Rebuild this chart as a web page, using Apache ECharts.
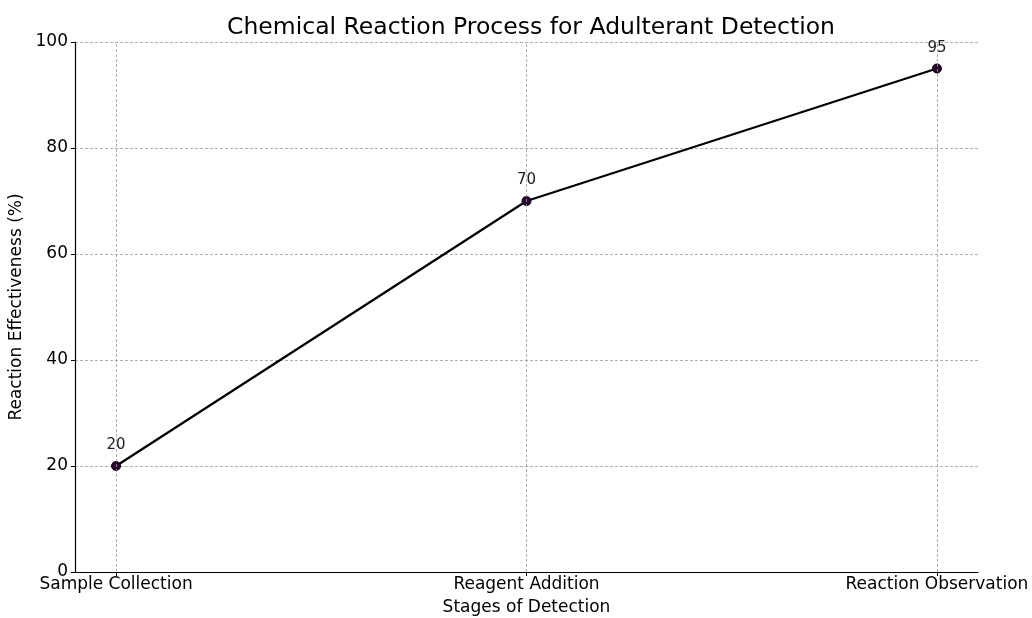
<!DOCTYPE html>
<html>
<head>
<meta charset="utf-8">
<script src="https://cdn.jsdelivr.net/npm/echarts@6/dist/echarts.min.js"></script>
<style>
  html, body { margin: 0; padding: 0; background: #fff; }
  #chart { width: 1032px; height: 618px; }
</style>
</head>
<body>
<div id="chart"></div>
<script>
// data
var stages = ['Sample Collection', 'Reagent Addition', 'Reaction Observation'];
var effectiveness = [20, 70, 95];

var font = 'DejaVu Sans';
var points = stages.map(function (s, i) { return [i, effectiveness[i]]; });
var stageIdx = stages.map(function (s, i) { return i; });

var myChart = echarts.init(document.getElementById('chart'));

var option = {
  animation: false,
  backgroundColor: '#fff',
  textStyle: { fontFamily: font },
  title: {
    text: 'Chemical Reaction Process for Adulterant Detection',
    left: 526,
    textAlign: 'center',
    top: 11,
    textStyle: { fontFamily: font, fontSize: 23.5, fontWeight: 'normal', color: '#000' }
  },
  grid: { left: 75, right: 54, top: 42, bottom: 46, outerBoundsMode: 'none', containLabel: false },
  xAxis: {
    type: 'value',
    min: -0.1,
    max: 2.1,
    name: 'Stages of Detection',
    nameLocation: 'middle',
    nameGap: 27,
    nameTextStyle: { fontFamily: font, fontSize: 17, color: '#000' },
    axisLine: { show: true, onZero: false, lineStyle: { color: '#000', width: 1.2 } },
    axisTick: { show: true, length: 4, customValues: stageIdx, lineStyle: { color: '#000' } },
    axisLabel: {
      customValues: stageIdx,
      margin: 4,
      fontFamily: font, fontSize: 17, color: '#000',
      formatter: function (v) { return stages[Math.round(v)]; }
    },
    splitLine: { show: false }
  },
  yAxis: {
    type: 'value',
    min: 0,
    max: 100,
    interval: 20,
    name: 'Reaction Effectiveness (%)',
    nameLocation: 'middle',
    nameGap: 43,
    nameTextStyle: { fontFamily: font, fontSize: 17, color: '#000' },
    axisLine: { show: true, onZero: false, lineStyle: { color: '#000', width: 1.2 } },
    axisTick: { show: true, length: 4, lineStyle: { color: '#000' } },
    axisLabel: { margin: 7, fontFamily: font, fontSize: 17, color: '#000' },
    splitLine: { show: true, lineStyle: { color: '#999', type: [3, 2], width: 0.8 } }
  },
  series: [{
    type: 'line',
    data: points,
    symbol: 'circle',
    symbolSize: 9,
    lineStyle: { color: '#000', width: 2.2 },
    itemStyle: { color: '#2b0535', borderColor: '#000', borderWidth: 1 },
    label: {
      show: true,
      position: 'top',
      distance: 8,
      fontFamily: font, fontSize: 15, color: '#222'
    },
    markLine: {
      silent: true,
      symbol: 'none',
      label: { show: false },
      lineStyle: { color: '#999', type: [3, 2], width: 0.8 },
      data: stageIdx.map(function (i) { return { xAxis: i }; })
    },
    z: 3
  }]
};

myChart.setOption(option);
</script>
</body>
</html>
